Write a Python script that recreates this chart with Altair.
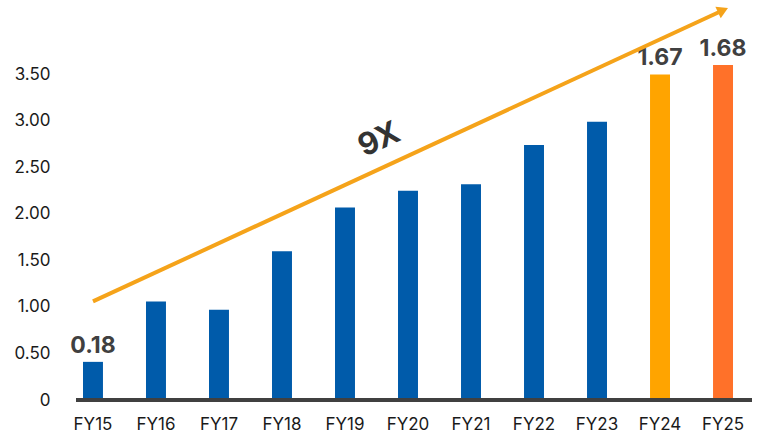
import altair as alt
import pandas as pd

years = ["FY15", "FY16", "FY17", "FY18", "FY19", "FY20", "FY21", "FY22", "FY23", "FY24", "FY25"]
values = [0.41, 1.06, 0.97, 1.60, 2.07, 2.25, 2.32, 2.74, 2.99, 3.50, 3.60]
colors = ["#005BAA"] * 9 + ["#FFA400", "#FF7129"]
label_years = ["FY15", "FY24", "FY25"]
label_texts = ["0.18", "1.67", "1.68"]
label_vals = [0.41, 3.50, 3.60]
y_ticks = [0, 0.5, 1.0, 1.5, 2.0, 2.5, 3.0, 3.5]

arrow_years = ["FY15", "FY25"]
arrow_vals = [1.06, 4.19]
growth_text = "9X"

df = pd.DataFrame({"year": years, "value": values, "color": colors})
lab = pd.DataFrame({"year": label_years, "text": label_texts, "value": label_vals})
arr = pd.DataFrame({"year": arrow_years, "value": arrow_vals})

FONT = "Inter"
xscale = alt.Scale(domain=years, paddingInner=0.683, paddingOuter=0.111)
yscale = alt.Scale(domain=[0, 4.3], nice=False)

bars = alt.Chart(df).mark_bar().encode(
    x=alt.X("year:N", scale=xscale, sort=years,
            axis=alt.Axis(title=None, labelAngle=0, ticks=False, domain=False,
                          labelFont=FONT, labelFontSize=17, labelColor="#1a1a1a",
                          labelPadding=16)),
    y=alt.Y("value:Q", scale=yscale,
            axis=alt.Axis(title=None, values=y_ticks, grid=False, ticks=False, domain=False,
                          labelExpr="datum.value == 0 ? '0' : format(datum.value, '.2f')",
                          labelFont=FONT, labelFontSize=17, labelColor="#1a1a1a",
                          labelPadding=26)),
    color=alt.Color("color:N", scale=None),
)

baseline = alt.Chart(df).mark_rule(color="#404040", strokeWidth=3).encode(
    y=alt.datum(0), x=alt.value(0), x2=alt.value(676)
)

labels = alt.Chart(lab).mark_text(
    font=FONT, fontSize=23, fontWeight="bold", color="#404040", baseline="bottom", dy=-4
).encode(
    x=alt.X("year:N", scale=xscale, sort=years),
    y=alt.Y("value:Q", scale=yscale),
    text="text:N",
)

arrow_line = alt.Chart(arr).mark_line(color="#F5A31A", strokeWidth=4).encode(
    x=alt.X("year:N", scale=xscale, sort=years),
    y=alt.Y("value:Q", scale=yscale),
)

arrow_head = alt.Chart(arr.iloc[[1]]).mark_point(
    shape="triangle-up", filled=True, color="#F5A31A", size=160, angle=65, opacity=1
).encode(
    x=alt.X("year:N", scale=xscale, sort=years),
    y=alt.Y("value:Q", scale=yscale),
)

growth = alt.Chart(pd.DataFrame({"year": ["FY19"], "value": [2.62], "text": [growth_text]})).mark_text(
    font=FONT, fontSize=31, fontWeight="bold", color="#333333", angle=335, dx=38
).encode(
    x=alt.X("year:N", scale=xscale, sort=years),
    y=alt.Y("value:Q", scale=yscale),
    text="text:N",
)

chart = alt.layer(bars, baseline, labels, arrow_line, arrow_head, growth).properties(
    width=664, height=400, padding={"left": 13, "top": 0, "right": 0, "bottom": 0}
).configure_view(stroke=None)

chart.save("out.html", embed_options={"renderer": "svg", "actions": False})
